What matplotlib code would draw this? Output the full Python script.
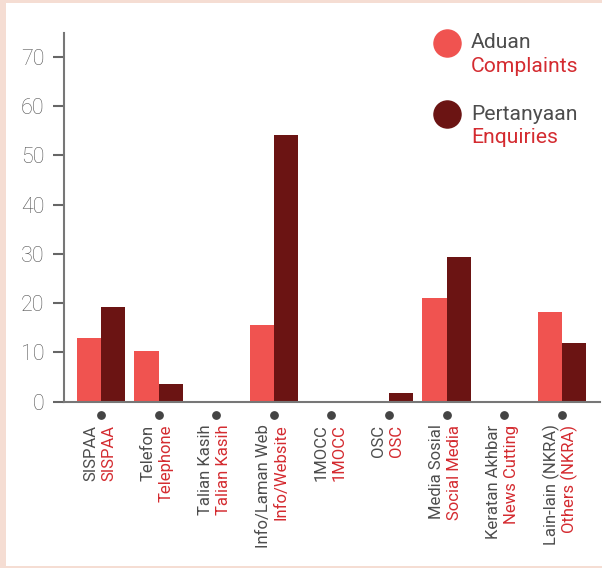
import matplotlib.pyplot as plt
from matplotlib.patches import Rectangle
from matplotlib.transforms import blended_transform_factory

# chart data
labels_ms = ['SISPAA', 'Telefon', 'Talian Kasih', 'Info/Laman Web', '1MOCC',
             'OSC', 'Media Sosial', 'Keratan Akhbar', 'Lain-lain (NKRA)']
labels_en = ['SISPAA', 'Telephone', 'Talian Kasih', 'Info/Website', '1MOCC',
             'OSC', 'Social Media', 'News Cutting', 'Others (NKRA)']
complaints = [12.9, 10.3, 0, 15.5, 0, 0, 21.0, 0, 18.2]
enquiries = [19.2, 3.6, 0, 54.1, 0, 1.8, 29.3, 0, 11.9]
yticks = [0, 10, 20, 30, 40, 50, 60, 70]

LIGHT = '#F05350'
DARK = '#6B1413'
GRAY = '#4d4d4d'
RED = '#D42B30'
PINK = '#F5DDD3'

plt.rcParams['font.family'] = ['Roboto', 'DejaVu Sans']

fig = plt.figure(figsize=(6.02, 5.68), dpi=100)
fig.patch.set_facecolor(PINK)
fig.add_artist(Rectangle((6 / 602, 2 / 568), 1, 563 / 568,
                         transform=fig.transFigure, facecolor='white',
                         edgecolor='none', zorder=0))

ax = fig.add_axes([64 / 602, 166.3 / 568, 536 / 602, 368.7 / 568])
ax.set_facecolor('none')

x = list(range(len(labels_ms)))
w = 0.42
ax.bar([i - w / 2 for i in x], complaints, width=w, color=LIGHT, zorder=2)
ax.bar([i + w / 2 for i in x], enquiries, width=w, color=DARK, zorder=2)

ax.set_xlim(-0.64, 8.66)
ax.set_ylim(0, 74.8)
ax.set_yticks(yticks)
ax.set_yticklabels([str(t) for t in yticks], fontsize=15.5, color='#555555',
                   fontweight='light')
ax.tick_params(axis='y', length=8, width=1.5, color='#666666', pad=6)
ax.set_xticks([])

for s in ['top', 'right']:
    ax.spines[s].set_visible(False)
for s in ['left', 'bottom']:
    ax.spines[s].set_color('#777777')
    ax.spines[s].set_linewidth(1.5)
ax.spines['bottom'].set_zorder(3)

# dots and two-line category labels under the axis
trans = blended_transform_factory(ax.transData, ax.transAxes)
ax.scatter(x, [-0.035] * len(x), s=28, color='#444444', transform=trans,
           clip_on=False, zorder=3)
for i in x:
    ax.annotate(labels_ms[i], xy=(i, 0), xycoords=trans, xytext=(-7.5, -16.5),
                textcoords='offset points', rotation=90, ha='center', va='top',
                fontsize=12, color=GRAY, annotation_clip=False)
    ax.annotate(labels_en[i], xy=(i, 0), xycoords=trans, xytext=(5.5, -16.5),
                textcoords='offset points', rotation=90, ha='center', va='top',
                fontsize=12, color=RED, annotation_clip=False)

# legend drawn by hand
legend = [(43, LIGHT, 'Aduan', 'Complaints'),
          (114, DARK, 'Pertanyaan', 'Enquiries')]
for ypx, col, ms, en in legend:
    fy = 1 - ypx / 568
    fig.lines.append(plt.Line2D([447 / 602], [fy], marker='o', markersize=19.5,
                                color=col, transform=fig.transFigure))
    fig.text(471 / 602, fy, ms, fontsize=15.2, color=GRAY, va='center')
    fig.text(471 / 602, fy - 23 / 568, en, fontsize=15.2, color=RED, va='center')

fig.savefig('out.png', dpi=100, facecolor=fig.get_facecolor())
